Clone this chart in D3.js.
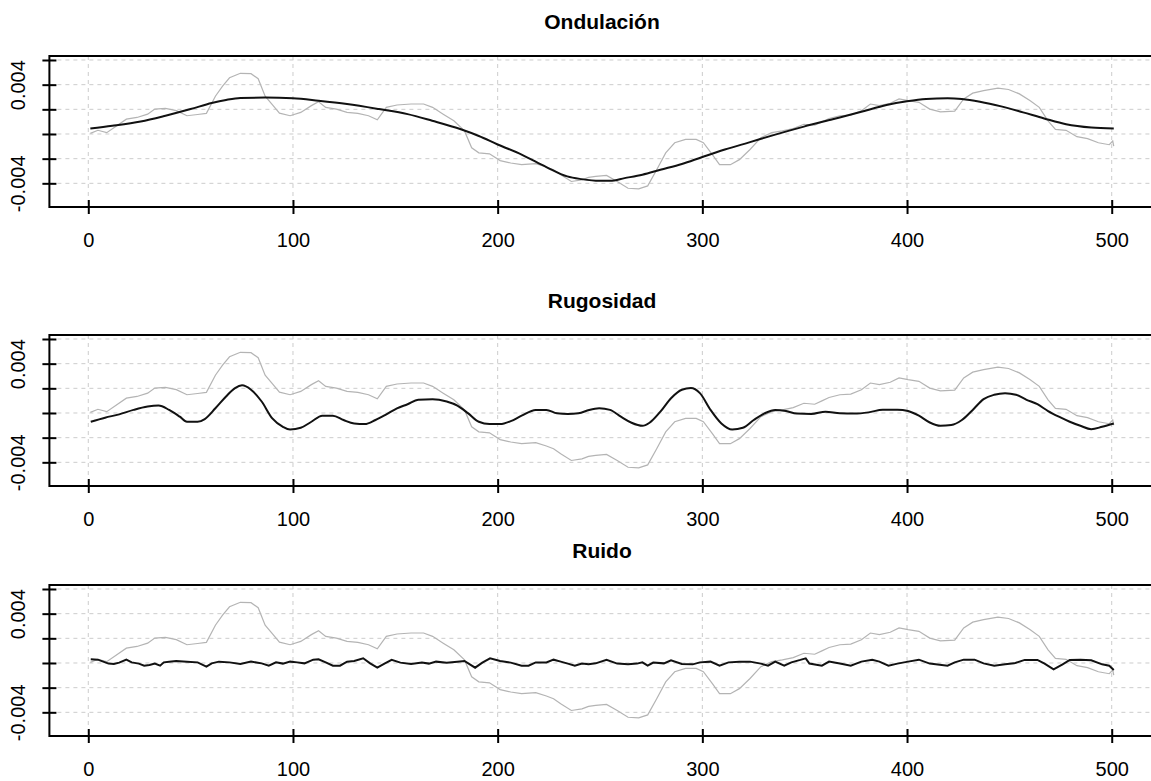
<!DOCTYPE html>
<html>
<head>
<meta charset="utf-8">
<script src="https://cdn.jsdelivr.net/npm/d3@7"></script>
<style>
  body { margin: 0; background: #fff; }
  text { font-family: 'Liberation Sans', Arial, sans-serif; }
</style>
</head>
<body>
<div id="chart"></div>
<script>
// panel titles
const titles = ['Ondulación', 'Rugosidad', 'Ruido']

// x ticks / y ticks (y values in units of 0.001)
const xTicks = [0, 100, 200, 300, 400, 500]
const yTicks = [-4, -2, 0, 2, 4, 6]
const yLabels = { '4': '0.004', '-4': '-0.004' }

// original profile (grey)
const perfilX = [1, 4.7, 9, 13.4, 18.6, 23.8, 29, 32.5, 37.7, 43, 48.2, 53.4, 57.7, 62.1, 65.6, 69, 74.3, 79.5, 83, 86.4,
  89.9, 93.4, 98.6, 103.8, 109, 112.5, 116, 121.2, 126.4, 131.7, 136.9, 141.2, 145.6, 150.8, 157.7, 163.8, 168.2, 173.4, 178.6, 183.8,
  187.3, 190.8, 196, 201.2, 206.4, 211.7, 218.6, 223.8, 227.3, 230.8, 236, 241.2, 244.4, 247.9, 253.2, 258.4, 263.7, 268.9, 273.3, 277.7,
  282.1, 286.5, 291.8, 297, 300.5, 304.9, 308.4, 313.7, 318.1, 323.3, 328.6, 333.9, 339.1, 344.4, 349.6, 354.9, 358.4, 361.9, 367.2, 372.5,
  377.7, 382.1, 386.5, 391.8, 396.1, 400.5, 405.8, 411.1, 416.3, 423.3, 427.7, 432.1, 437.4, 444.4, 449.6, 454.9, 460.2, 464.6, 468.9, 472.5,
  477.7, 483, 488.2, 493.5, 498.8, 500.5, 501]
const perfilY = [0.05, 0.30, 0.11, 0.60, 1.20, 1.34, 1.61, 2.02, 2.08, 1.89, 1.48, 1.58, 1.67, 3.06, 3.88, 4.56, 4.92, 4.89, 4.48, 3.06,
  2.38, 1.69, 1.48, 1.75, 2.30, 2.62, 2.16, 2.02, 1.75, 1.67, 1.48, 1.15, 2.16, 2.35, 2.43, 2.43, 2.16, 1.61, 1.07, 0.25,
  -1.12, -1.53, -1.61, -2.16, -2.35, -2.49, -2.40, -2.68, -2.90, -3.31, -3.85, -3.72, -3.52, -3.44, -3.36, -3.85, -4.40, -4.45, -4.21, -2.90,
  -1.53, -0.71, -0.44, -0.44, -0.71, -1.67, -2.49, -2.49, -2.08, -1.26, -0.30, 0.11, 0.25, 0.44, 0.79, 0.71, 0.98, 1.26, 1.48, 1.53,
  1.89, 2.43, 2.30, 2.49, 2.84, 2.70, 2.57, 2.02, 1.80, 1.86, 2.84, 3.31, 3.52, 3.72, 3.61, 3.25, 2.70, 2.16, 1.07, 0.38,
  0.30, -0.22, -0.38, -0.71, -0.87, -0.57, -0.98]

// ondulacion
const ondX = [1, 11.7, 25.6, 37.7, 50, 60.3, 67.3, 74.3, 86.4, 100, 112.5, 126.4, 142, 156, 168, 182, 190.8, 200, 211.7, 223.8,
  234, 241, 249.6, 255, 262, 270.7, 279.5, 290, 300, 311, 323.3, 335.6, 349.6, 363.7, 377.7, 390, 400, 409.3, 419.8, 426.8,
  435.6, 446, 456.7, 467, 477.7, 490, 501]
const ondY = [0.44, 0.66, 1.01, 1.48, 2.02, 2.51, 2.76, 2.92, 2.95, 2.90, 2.70, 2.43, 2.02, 1.61, 1.07, 0.38, -0.16, -0.85, -1.67, -2.68,
  -3.44, -3.66, -3.80, -3.80, -3.58, -3.30, -2.90, -2.43, -1.86, -1.26, -0.66, -0.05, 0.60, 1.20, 1.80, 2.35, 2.65, 2.84, 2.90, 2.84,
  2.62, 2.24, 1.75, 1.26, 0.79, 0.52, 0.44]

// rugosidad
const rugX = [1.2, 8.2, 15.1, 22.1, 29, 34.3, 39.5, 44.7, 48.2, 53.4, 56.9, 62.1, 67.3, 71.7, 75.1, 79.5, 84.7, 89.9, 95.1, 98.6,
  103.8, 109, 114.3, 119.5, 124.7, 129.9, 135.1, 140.3, 145.6, 150.8, 156, 161.2, 168.2, 175.1, 180.3, 185.6, 190.8, 196, 201.2, 206.4,
  211.7, 218.6, 223.8, 229, 234.3, 239.5, 244.7, 249.6, 254.9, 260.2, 265.4, 270.7, 274.2, 279.5, 284.7, 290, 294.4, 298.8, 304, 309.3,
  314.6, 319.8, 325.1, 330.4, 335.6, 340.9, 346.1, 353.2, 360.2, 367.2, 374.2, 381.2, 388.2, 395.3, 400.5, 405.8, 411.1, 416.3, 421.6, 426.8,
  432.1, 437.4, 442.6, 447.9, 453.2, 458.4, 463.7, 468.9, 474.2, 479.5, 484.7, 490, 495.3, 501]
const rugY = [-0.71, -0.38, -0.11, 0.25, 0.52, 0.60, 0.25, -0.30, -0.71, -0.71, -0.49, 0.38, 1.34, 2.02, 2.24, 1.89, 0.93, -0.44, -1.12, -1.34,
  -1.20, -0.71, -0.22, -0.22, -0.57, -0.85, -0.90, -0.57, -0.11, 0.38, 0.71, 1.07, 1.12, 0.93, 0.60, -0.03, -0.71, -0.90, -0.90, -0.66,
  -0.22, 0.25, 0.25, -0.03, -0.08, -0.03, 0.25, 0.38, 0.25, -0.30, -0.79, -1.04, -0.79, 0.11, 1.20, 1.89, 2.02, 1.61, 0.25, -0.85,
  -1.34, -1.20, -0.57, -0.03, 0.25, 0.16, -0.05, -0.08, 0.11, -0.03, -0.05, 0.05, 0.27, 0.27, 0.16, -0.22, -0.77, -1.04, -0.98, -0.57,
  0.25, 1.12, 1.48, 1.61, 1.48, 1.07, 0.71, 0.16, -0.30, -0.71, -1.04, -1.31, -1.12, -0.85]

// ruido
const ruidoX = [1.2, 4.7, 7.3, 9.9, 12.5, 15.1, 18.6, 21.2, 24.7, 27.3, 29.9, 32.5, 35.1, 36.9, 39.5, 42.9, 48.2, 53.4, 57.7, 60.3,
  63.8, 69, 74.3, 79.5, 84.7, 88.2, 91.7, 95.1, 98.6, 102.1, 105.6, 109.9, 112.5, 116, 119.5, 123, 126.4, 129.9, 134.3, 137.7,
  141.2, 144.7, 148.2, 152.5, 157.7, 163, 166.4, 169.9, 175.1, 180.3, 183.8, 186.4, 189, 192.5, 196.3, 201.2, 206.4, 211.7, 215.1, 218.6,
  223.8, 227.3, 230.8, 234.3, 237.7, 241.2, 244.4, 247.9, 253.2, 258.4, 263.7, 268.1, 270.7, 273.3, 276, 281.2, 284.7, 290, 295.3, 298.8,
  304, 308.4, 312.8, 318.1, 323.3, 328.6, 332.1, 335.6, 340, 343.5, 347.9, 350.5, 352.3, 358.4, 361.9, 367.2, 372.5, 377.7, 383, 386.5,
  390.9, 395.3, 400.5, 405.8, 411.1, 419.8, 423.3, 427.7, 433, 437.4, 442.6, 447.9, 452.3, 457.5, 463.7, 467.2, 471.6, 476, 479.5, 484.7,
  490, 495.3, 498.8, 501]
const ruidoY = [0.30, 0.27, 0.11, -0.05, -0.08, 0.03, 0.27, 0.05, -0.05, -0.22, -0.16, -0.05, -0.22, 0.05, 0.11, 0.16, 0.11, 0.05, -0.30, -0.03,
  0.11, 0.05, -0.08, 0.11, -0.03, -0.22, 0.05, -0.05, 0.11, 0.05, -0.03, 0.27, 0.30, 0.05, -0.22, -0.22, 0.11, 0.16, 0.38, -0.03,
  -0.38, -0.05, 0.25, 0.03, -0.08, 0.03, -0.05, 0.11, 0.03, 0.11, 0.16, -0.11, -0.38, 0.03, 0.38, 0.16, 0.03, -0.22, -0.22, 0.05,
  0.05, 0.27, 0.11, -0.05, -0.22, -0.05, -0.11, -0.03, 0.25, -0.05, -0.11, -0.05, 0.05, -0.22, 0.03, -0.03, 0.22, -0.08, -0.11, 0.05,
  0.11, -0.22, 0.05, 0.11, 0.11, -0.05, -0.22, 0.11, -0.22, 0.05, 0.25, 0.38, -0.05, -0.22, 0.11, -0.05, -0.22, 0.11, 0.27, 0.11,
  -0.22, -0.05, 0.11, 0.27, -0.05, -0.22, 0.05, 0.27, 0.27, -0.03, -0.22, -0.11, -0.03, 0.25, 0.25, -0.05, -0.52, -0.11, 0.25, 0.27,
  0.22, -0.11, -0.22, -0.57]

const w = 1151,
    h = 781,
    panelTops = [56, 335, 585],
    ph = 151

let zip = (xs, ys) => xs.map((x, i) => ({ x: x, y: ys[i] }))
let perfil = zip(perfilX, perfilY)
let componentes = [zip(ondX, ondY), zip(rugX, rugY), zip(ruidoX, ruidoY)]

let svg = d3.select('#chart')
    .append('svg')
    .attr('width', w)
    .attr('height', h)

let xScale = d3.scaleLinear()
    .domain([-19, 521])
    .range([49.4, 1154.7])
let yScale = d3.scaleLinear()
    .domain([-5.92, 6.324])
    .range([ph, 0])

let line = d3.line()
    .x(d => xScale(d.x))
    .y(d => yScale(d.y))

titles.forEach((t, i) => {
    let g = svg.append('g')
        .attr('transform', `translate(0,${panelTops[i]})`)

    // title
    g.append('text')
        .text(t)
        .attr('x', 602)
        .attr('y', -27)
        .attr('text-anchor', 'middle')
        .attr('font-weight', 'bold')
        .attr('font-size', 21)
        .attr('font-family', "'Liberation Sans Narrow', 'Arial Narrow', 'Liberation Sans', sans-serif")
        .attr('fill', '#000')

    // grid
    g.selectAll('.hgrid')
        .data(yTicks)
        .enter()
        .append('line')
        .attr('x1', xScale.range()[0])
        .attr('x2', xScale.range()[1])
        .attr('y1', d => yScale(d))
        .attr('y2', d => yScale(d))
        .attr('stroke', '#cccccc')
        .attr('stroke-dasharray', '4,4')
    g.selectAll('.vgrid')
        .data(xTicks)
        .enter()
        .append('line')
        .attr('x1', d => xScale(d))
        .attr('x2', d => xScale(d))
        .attr('y1', 0)
        .attr('y2', ph)
        .attr('stroke', '#cccccc')
        .attr('stroke-dasharray', '4,4')

    // original profile + component
    g.append('path')
        .attr('d', line(perfil))
        .attr('fill', 'none')
        .attr('stroke', '#b4b4b4')
        .attr('stroke-width', 1.2)
    g.append('path')
        .attr('d', line.curve(i < 2 ? d3.curveMonotoneX : d3.curveLinear)(componentes[i]))
        .attr('fill', 'none')
        .attr('stroke', '#111')
        .attr('stroke-width', 2)
    line.curve(d3.curveLinear)

    // box
    g.append('rect')
        .attr('x', xScale.range()[0])
        .attr('y', 0)
        .attr('width', xScale.range()[1] - xScale.range()[0])
        .attr('height', ph)
        .attr('fill', 'none')
        .attr('stroke', '#000')
        .attr('stroke-width', 2)

    // axes
    let xAxis = g.append('g')
        .attr('transform', `translate(0,${ph})`)
        .call(d3.axisBottom(xScale).tickValues(xTicks).tickSize(7).tickFormat(d3.format('d')))
    xAxis.select('.domain').remove()
    xAxis.selectAll('.tick line')
        .attr('y1', -7)
        .attr('stroke-width', 2)
    xAxis.selectAll('.tick text')
        .attr('y', 40)
        .attr('dy', null)
        .attr('font-size', 20)
        .attr('font-family', 'Liberation Sans, Arial, sans-serif')
        .attr('fill', '#000')

    let yAxis = g.append('g')
        .attr('transform', `translate(${xScale.range()[0]},0)`)
        .call(d3.axisLeft(yScale).tickValues(yTicks).tickSize(7).tickFormat(d => yLabels[d] || ''))
    yAxis.select('.domain').remove()
    yAxis.selectAll('.tick line')
        .attr('x1', 7)
        .attr('stroke-width', 2)
    yAxis.selectAll('.tick text')
        .attr('x', null)
        .attr('dy', null)
        .attr('transform', 'translate(-24,0) rotate(-90)')
        .attr('text-anchor', 'middle')
        .attr('font-size', 20)
        .attr('font-family', 'Liberation Sans, Arial, sans-serif')
        .attr('fill', '#000')
})
</script>
</body>
</html>
